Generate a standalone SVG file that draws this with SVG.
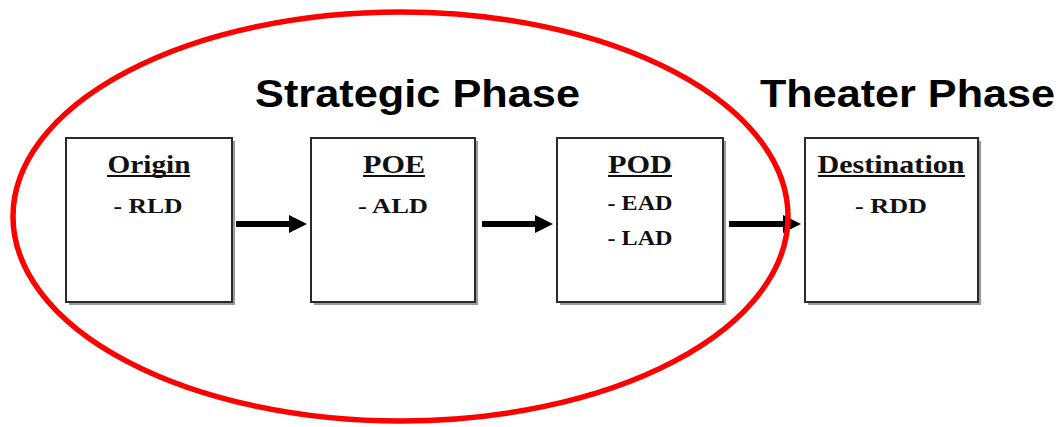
<svg xmlns="http://www.w3.org/2000/svg" width="1060" height="427" viewBox="0 0 1060 427">
  <style>
    .box { fill: #ffffff; stroke: #2a2a2a; stroke-width: 2; }
    .shadow { fill: #9a9a9a; }
    .head { font-family: "Liberation Serif", "Times New Roman", serif; font-weight: bold; font-size: 26px; fill: #111; text-anchor: middle; }
    .item { font-family: "Liberation Serif", "Times New Roman", serif; font-weight: bold; font-size: 22px; fill: #111; text-anchor: middle; }
    .ul { stroke: #111; stroke-width: 1.8; }
    .title { font-family: "Liberation Sans", Arial, sans-serif; font-weight: bold; font-size: 39px; fill: #000; }
    .conn { stroke: #000; stroke-width: 6; fill: none; marker-end: url(#arrow); }
  </style>
  <defs>
    <marker id="arrow" markerUnits="userSpaceOnUse" markerWidth="18" markerHeight="18" viewBox="0 0 18 18" refX="2" refY="9" orient="auto">
      <path d="M0,0 L18,9 L0,18 Z" fill="#000"/>
    </marker>
  </defs>
  <rect width="1060" height="427" fill="#ffffff"/>

  <text class="title" x="255" y="107" textLength="325" lengthAdjust="spacingAndGlyphs">Strategic Phase</text>
  <text class="title" x="760" y="107" textLength="295" lengthAdjust="spacingAndGlyphs">Theater Phase</text>

  <g id="origin">
    <rect class="shadow" x="69" y="141" width="166" height="164"/>
    <rect class="box" x="66" y="138" width="166" height="164"/>
    <text class="head" x="149" y="173" textLength="83" lengthAdjust="spacingAndGlyphs">Origin</text>
    <line class="ul" x1="107" y1="176" x2="190" y2="176"/>
    <text class="item" x="148" y="213" textLength="69" lengthAdjust="spacingAndGlyphs">- RLD</text>
  </g>

  <g id="poe">
    <rect class="shadow" x="314" y="141" width="164" height="164"/>
    <rect class="box" x="311" y="138" width="164" height="164"/>
    <text class="head" x="394" y="173" textLength="62" lengthAdjust="spacingAndGlyphs">POE</text>
    <line class="ul" x1="363" y1="176" x2="425" y2="176"/>
    <text class="item" x="393" y="213" textLength="70" lengthAdjust="spacingAndGlyphs">- ALD</text>
  </g>

  <g id="pod">
    <rect class="shadow" x="560" y="141" width="166" height="164"/>
    <rect class="box" x="557" y="138" width="166" height="164"/>
    <text class="head" x="640" y="173" textLength="64" lengthAdjust="spacingAndGlyphs">POD</text>
    <line class="ul" x1="608" y1="176" x2="672" y2="176"/>
    <text class="item" x="640" y="210" textLength="65" lengthAdjust="spacingAndGlyphs">- EAD</text>
    <text class="item" x="640" y="245" textLength="65" lengthAdjust="spacingAndGlyphs">- LAD</text>
  </g>

  <g id="destination">
    <rect class="shadow" x="808" y="141" width="173" height="164"/>
    <rect class="box" x="805" y="138" width="173" height="164"/>
    <text class="head" x="891" y="173" textLength="147" lengthAdjust="spacingAndGlyphs">Destination</text>
    <line class="ul" x1="818" y1="176" x2="965" y2="176"/>
    <text class="item" x="891" y="213" textLength="72" lengthAdjust="spacingAndGlyphs">- RDD</text>
  </g>

  <g id="connectors">
    <line class="conn" x1="236" y1="224" x2="291" y2="224"/>
    <line class="conn" x1="482" y1="224" x2="537" y2="224"/>
    <line class="conn" x1="729" y1="224" x2="785" y2="224"/>
  </g>

  <g id="strategic-ellipse">
    <ellipse cx="400.5" cy="216.5" rx="387.5" ry="204.5" fill="none" stroke="#ff0000" stroke-width="5.5"/>
  </g>
</svg>
